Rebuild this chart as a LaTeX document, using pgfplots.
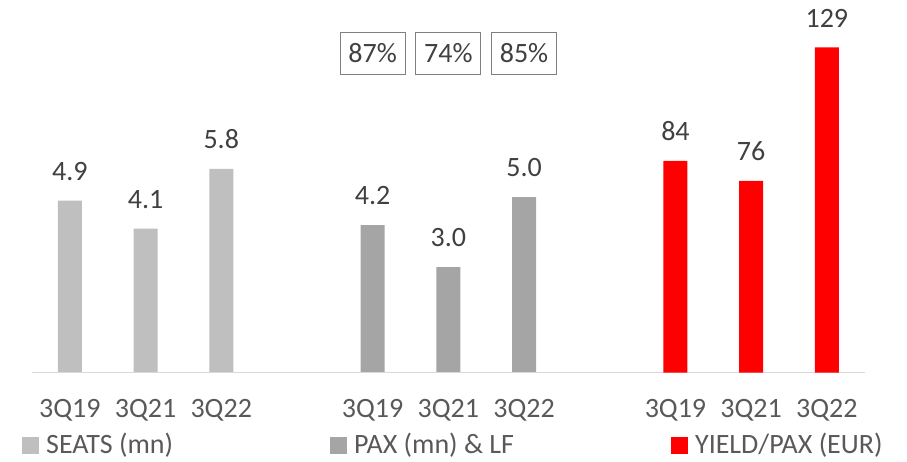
\documentclass[border=0pt]{standalone}
\usepackage{fontspec}
\setmainfont{Carlito}
\usepackage{pgfplots}
\pgfplotsset{compat=1.18}
\definecolor{seat}{HTML}{BFBFBF}
\definecolor{pax}{HTML}{A5A5A5}
\definecolor{yld}{HTML}{FF0000}
\definecolor{txt}{HTML}{404040}
\definecolor{tickc}{HTML}{595959}
\definecolor{boxc}{HTML}{808080}
\definecolor{basec}{HTML}{D9D9D9}
\begin{document}
\fontsize{28}{34}\selectfont
\begin{tikzpicture}
\useasboundingbox (-32pt,-88.5pt) rectangle (875pt,372.5pt);
\pgfplotsset{
  common/.style={
    scale only axis, width=832.7pt, height=362.5pt,
    at={(0pt,0pt)}, anchor=south west,
    xmin=-0.5, xmax=10.5, ymin=0,
    axis line style={draw=none}, ytick=\empty,
    major tick length=0pt,
    ybar, bar width=24pt, bar shift=0pt,
    clip=false,
    nodes near coords,
    every node near coord/.append style={anchor=south, inner sep=0pt, yshift=20pt, text=txt, font=\fontsize{28}{34}\selectfont},
    /pgf/number format/assume math mode=true,
  }
}
\begin{axis}[common, ymax=10.328,
  xtick={0,1,2,4,5,6,8,9,10},
  xticklabels={3Q19,3Q21,3Q22,3Q19,3Q21,3Q22,3Q19,3Q21,3Q22},
  xticklabel style={text=tickc, anchor=base, inner sep=0pt, yshift=-45pt, font=\fontsize{28}{34}\selectfont},
  /pgf/number format/.cd, fixed, fixed zerofill, precision=1, /pgfplots/.cd,
  legend columns=3,
  legend style={draw=none, fill=none, inner sep=0pt, at={(0,0)}, anchor=north west, xshift=-10pt, yshift=-58pt,
    font=\fontsize{28}{34}\selectfont, text=tickc,
    /tikz/every even column/.append style={column sep=155pt},
    /tikz/every odd column/.append style={column sep=5pt}},
  legend image code/.code={\fill[#1] (0pt,-9pt) rectangle (17pt,8pt);},
]
\addplot[fill=seat, draw=none] coordinates {(0,4.9) (1,4.1) (2,5.8)};
\addlegendentry{SEATS (mn)}
\addplot[fill=pax, draw=none] coordinates {(4,4.2) (5,3.0) (6,5.0)};
\addlegendentry{PAX (mn) \& LF}
\addlegendimage{fill=yld, draw=none}
\addlegendentry{YIELD/PAX (EUR)}
\draw[basec, line width=1.2pt] (axis cs:-0.5,0) -- (axis cs:10.5,0);
\node[draw=boxc, line width=1pt, minimum width=65pt, minimum height=42pt, inner sep=0pt, text=txt] at (axis cs:4,9.094) {87\%};
\node[draw=boxc, line width=1pt, minimum width=65pt, minimum height=42pt, inner sep=0pt, text=txt] at (axis cs:5,9.094) {74\%};
\node[draw=boxc, line width=1pt, minimum width=65pt, minimum height=42pt, inner sep=0pt, text=txt] at (axis cs:6,9.094) {85\%};
\end{axis}
\begin{axis}[common, ymax=143.85, xtick=\empty,
  /pgf/number format/.cd, fixed, precision=0, /pgfplots/.cd]
\addplot[fill=yld, draw=none] coordinates {(8,84) (9,76) (10,129)};
\end{axis}
\end{tikzpicture}
\end{document}
